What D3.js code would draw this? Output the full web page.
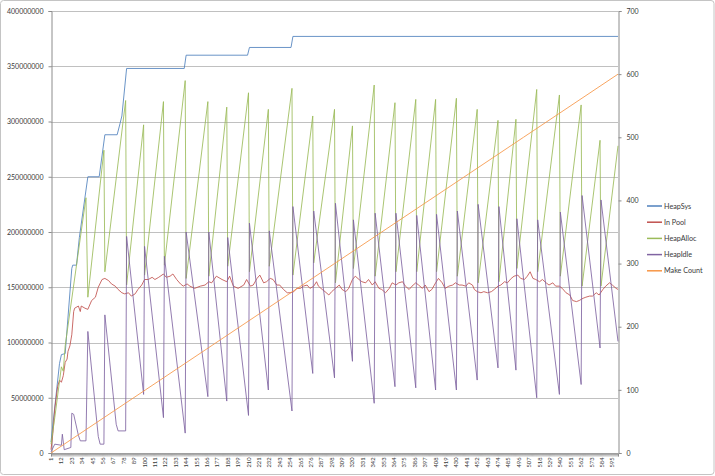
<!DOCTYPE html>
<html>
<head>
<meta charset="utf-8">
<script src="https://cdn.jsdelivr.net/npm/d3@7"></script>
<style>
  body { margin: 0; background: #fff; }
  text { font-family: Lato, "Open Sans", "Liberation Sans", sans-serif; fill: #3a3a3a; }
</style>
</head>
<body>
<div id="chart"></div>
<script>
// values of the memory series are in millions (bytes / 1e6)
var heapSysCat = [1, 10, 12, 16, 23, 24, 28, 31, 40, 52, 58, 71, 74, 76, 81, 142, 144, 209, 211, 255, 257, 601];
var heapSysVal = [10, 81, 89, 90, 167, 170, 170, 195, 250, 250, 288, 288, 298, 305, 348, 348, 360, 360, 367, 367, 377, 377];

var inPoolCat = [1, 3, 5, 8, 10, 12, 14, 16, 18, 19, 21, 23, 25, 26, 30, 32, 33, 37, 40, 44, 48, 51, 55, 58, 62, 65, 69, 72, 76, 79,
  83, 86, 90, 93, 97, 100, 104, 108, 111, 115, 120, 123, 127, 130, 134, 138, 141, 145, 148, 153, 159, 164, 168, 171, 176, 182, 187, 190, 194, 199,
  205, 208, 212, 215, 219, 222, 226, 229, 233, 236, 240, 243, 247, 251, 254, 258, 261, 265, 268, 272, 275, 279, 282, 284, 288, 291, 295, 298, 302, 306,
  309, 313, 316, 320, 323, 327, 330, 334, 337, 341, 344, 348, 351, 355, 359, 362, 366, 369, 373, 376, 380, 383, 387, 390, 394, 397, 401, 404, 408, 411,
  415, 418, 422, 426, 429, 433, 436, 440, 443, 447, 449, 452, 456, 459, 463, 467, 470, 474, 477, 481, 484, 488, 491, 495, 498, 502, 505, 508, 511, 514,
  518, 521, 525, 528, 532, 535, 539, 542, 546, 550, 553, 557, 560, 564, 567, 571, 574, 578, 581, 585, 588, 592, 595, 599, 601];
var inPoolVal = [3, 18, 40, 60, 66, 64, 70, 82, 85, 92, 97, 107, 128, 131, 133, 128, 133, 131, 130, 138, 141, 150, 157, 158, 156, 153, 151, 148, 145, 144,
  145, 142, 144, 148, 152, 157, 157, 159, 157, 159, 162, 159, 160, 162, 157, 153, 151, 153, 151, 149, 151, 152, 155, 154, 160, 157, 155, 160, 151, 149,
  152, 157, 151, 152, 158, 161, 154, 155, 158, 157, 152, 152, 148, 145, 145, 146, 149, 149, 151, 152, 149, 151, 155, 151, 148, 146, 143, 146, 149, 152,
  148, 146, 149, 157, 160, 157, 155, 154, 157, 152, 155, 149, 148, 145, 149, 154, 152, 154, 155, 151, 148, 151, 154, 152, 149, 152, 146, 148, 154, 158,
  154, 149, 151, 152, 154, 152, 152, 151, 154, 152, 148, 146, 145, 146, 145, 146, 148, 151, 152, 155, 154, 158, 160, 161, 158, 157, 160, 164, 158, 157,
  155, 157, 154, 152, 154, 151, 151, 149, 145, 143, 138, 137, 138, 140, 141, 142, 142, 145, 143, 148, 151, 154, 152, 149, 148];

var heapAllocCat = [1, 5, 12, 14, 16, 38, 40, 57, 58, 80, 81, 99, 100, 120, 121, 143, 144, 167, 168, 187, 188, 210, 211, 231, 232, 256, 257,
  278, 279, 301, 302, 320, 321, 343, 344, 365, 366, 387, 388, 408, 409, 430, 431, 452, 453, 474, 475, 493, 494, 515, 516, 539, 540, 562, 563, 582, 583, 601];
var heapAllocVal = [8, 32, 78, 74, 97, 231, 141, 274, 164, 319, 152, 297, 161, 318, 170, 337, 158, 318, 160, 313, 169, 326, 164, 311, 169, 330, 161,
  305, 172, 311, 154, 296, 167, 333, 160, 317, 164, 320, 164, 320, 164, 321, 160, 311, 154, 301, 155, 302, 167, 329, 164, 324, 160, 315, 151, 283, 151, 278];

var heapIdleCat = [1, 5, 12, 13, 15, 22, 23, 25, 30, 32, 38, 40, 51, 53, 57, 58, 70, 72, 80, 81, 99, 100, 120, 121, 143, 144, 167, 168, 187, 188,
  210, 211, 231, 232, 256, 257, 278, 279, 301, 302, 320, 321, 343, 344, 365, 366, 387, 388, 408, 409, 430, 431, 452, 453, 474, 475, 493, 494,
  515, 516, 539, 540, 562, 563, 582, 583, 601];
var heapIdleVal = [1, 8, 7, 17, 3, 5, 36, 35, 16, 11, 11, 110, 15, 8, 8, 125, 26, 20, 20, 196, 53, 187, 32, 178, 18, 200, 51, 200, 47, 195,
  34, 208, 57, 201, 38, 223, 72, 219, 68, 226, 83, 211, 45, 217, 60, 217, 59, 215, 57, 216, 57, 219, 66, 225, 77, 223, 75, 212,
  50, 211, 53, 218, 62, 233, 95, 229, 101];

var makeCountCat = [1, 101, 201, 301, 401, 501, 601];
var makeCountVal = [0, 100, 200, 300, 400, 500, 600];

var leftTicks = [0, 50, 100, 150, 200, 250, 300, 350, 400];
var rightTicks = [0, 100, 200, 300, 400, 500, 600, 700];
var xLabels = [1, 12, 23, 34, 45, 56, 67, 78, 89, 100, 111, 122, 133, 144, 155, 166, 177, 188, 199, 210, 221, 232, 243, 254, 265,
  276, 287, 298, 309, 320, 331, 342, 353, 364, 375, 386, 397, 408, 419, 430, 441, 452, 463, 474, 485, 496, 507, 518, 529, 540,
  551, 562, 573, 584, 595];

var seriesNames = ["HeapSys", "In Pool", "HeapAlloc", "HeapIdle", "Make Count"];
var seriesColors = ["#4f81bd", "#c0504d", "#9bbb59", "#8064a2", "#f79646"];

var width = 715, height = 476;
var plot = {left: 51, right: 618, top: 11, bottom: 453};

var svg = d3.select("#chart").append("svg")
    .attr("width", width)
    .attr("height", height);

svg.append("rect")
    .attr("x", 0.5).attr("y", 0.5)
    .attr("width", width - 1.5).attr("height", height - 2)
    .attr("rx", 3)
    .attr("fill", "#fff")
    .attr("stroke", "#c4c4c4");

var x = d3.scaleLinear().domain([1, 601]).range([plot.left, plot.right]);
var yL = d3.scaleLinear().domain([0, 400]).range([plot.bottom, plot.top]);
var yR = d3.scaleLinear().domain([0, 700]).range([plot.bottom, plot.top]);

// gridlines
svg.append("g").selectAll("line")
    .data(leftTicks)
    .enter().append("line")
    .attr("x1", plot.left).attr("x2", plot.right)
    .attr("y1", function(d){ return Math.round(yL(d)) + 0.5; })
    .attr("y2", function(d){ return Math.round(yL(d)) + 0.5; })
    .attr("stroke", "#c0c0c0")
    .attr("stroke-width", 1);

// left axis
var gL = svg.append("g")
    .attr("transform", "translate(" + (plot.left + 0.5) + ",0)")
    .call(d3.axisLeft(yL).tickValues(leftTicks).tickSize(3).tickPadding(5)
        .tickFormat(function(d){ return d3.format("d")(d * 1000000); }));
gL.selectAll("text").style("font-size", "7px");

// right axis
var gR = svg.append("g")
    .attr("transform", "translate(" + (plot.right + 0.5) + ",0)")
    .call(d3.axisRight(yR).tickValues(rightTicks).tickSize(3).tickPadding(5));
gR.selectAll("text").style("font-size", "7px");

// x axis: minor tick at every category
var gX = svg.append("g")
    .attr("transform", "translate(0," + (plot.bottom + 0.5) + ")")
    .call(d3.axisBottom(x).tickValues(d3.range(1, 602)).tickSize(3).tickFormat(""));
gX.selectAll(".tick line").attr("stroke-width", 0.5);

[gL, gR, gX].forEach(function(g){
    g.select(".domain").attr("stroke", "#8c8c8c");
    g.selectAll(".tick line").attr("stroke", "#8c8c8c");
});

svg.append("g").selectAll("text")
    .data(xLabels)
    .enter().append("text")
    .attr("transform", function(d){ return "translate(" + x(d) + "," + (plot.bottom + 4.5) + ") rotate(-90)"; })
    .attr("text-anchor", "end")
    .attr("dy", "0.35em")
    .style("font-size", "5.8px")
    .text(function(d){ return d; });

// series
function drawLine(cats, vals, scale, color){
    var pts = cats.map(function(c, i){ return [c, vals[i]]; });
    var line = d3.line()
        .x(function(d){ return x(d[0]); })
        .y(function(d){ return scale(d[1]); });
    svg.append("path")
        .datum(pts)
        .attr("d", line)
        .attr("fill", "none")
        .attr("stroke", color)
        .attr("stroke-width", 0.85)
        .attr("stroke-linejoin", "round");
}

drawLine(heapSysCat, heapSysVal, yL, seriesColors[0]);
drawLine(inPoolCat, inPoolVal, yL, seriesColors[1]);
drawLine(heapAllocCat, heapAllocVal, yL, seriesColors[2]);
drawLine(heapIdleCat, heapIdleVal, yL, seriesColors[3]);
drawLine(makeCountCat, makeCountVal, yR, seriesColors[4]);

// legend
var legend = svg.append("g").attr("transform", "translate(647,206)");
var items = legend.selectAll("g")
    .data(seriesNames)
    .enter().append("g")
    .attr("transform", function(d, i){ return "translate(0," + (i * 16.2) + ")"; });
items.append("line")
    .attr("x1", 0).attr("x2", 15)
    .attr("stroke", function(d, i){ return seriesColors[i]; })
    .attr("stroke-width", 1.5);
items.append("text")
    .attr("x", 17)
    .attr("dy", "0.35em")
    .style("font-size", "7.2px")
    .text(function(d){ return d; });
</script>
</body>
</html>
